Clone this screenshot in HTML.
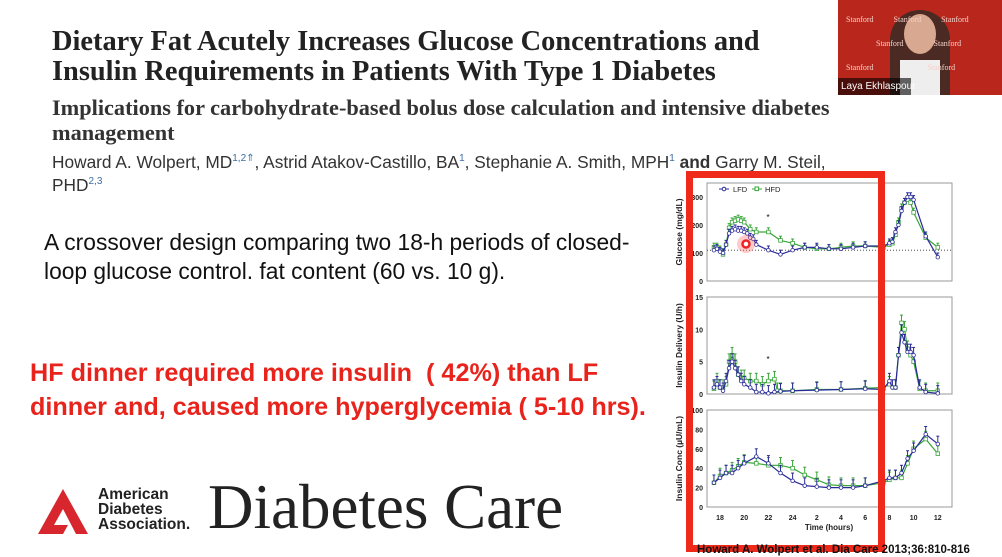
<!DOCTYPE html>
<html><head><meta charset="utf-8"><style>
body{margin:0;width:1002px;height:557px;background:#fff;position:relative;overflow:hidden;font-family:"Liberation Sans",sans-serif}
.a{position:absolute;white-space:nowrap}
.t{font-family:"Liberation Serif",serif;font-weight:bold;font-size:28.4px;color:#222;left:52px}
.s{font-family:"Liberation Serif",serif;font-weight:bold;font-size:22.3px;color:#333;left:52px}
.au{font-size:17.3px;color:#333;left:52px}
sup{font-size:10px;color:#3a6ea5}
.b{font-size:22.8px;color:#111;left:44px}
.r{font-size:25.2px;font-weight:bold;color:#e8231c;left:30px}
</style></head><body>
<div class="a t" style="top:26px">Dietary Fat Acutely Increases Glucose Concentrations and</div>
<div class="a t" style="top:56px">Insulin Requirements in Patients With Type 1 Diabetes</div>
<div class="a s" style="top:95px">Implications for carbohydrate-based bolus dose calculation and intensive diabetes</div>
<div class="a s" style="top:120px">management</div>
<div class="a au" style="top:152px">Howard A. Wolpert, MD<sup>1,2</sup><sup>⇑</sup>, Astrid Atakov-Castillo, BA<sup>1</sup>, Stephanie A. Smith, MPH<sup>1</sup> <b>and</b> Garry M. Steil,</div>
<div class="a au" style="top:175px">PHD<sup>2,3</sup></div>
<div class="a b" style="top:229px">A crossover design comparing two 18-h periods of closed-</div>
<div class="a b" style="top:258px">loop glucose control. fat content (60 vs. 10 g).</div>
<div class="a r" style="top:359px">HF dinner required more insulin &nbsp;( 42%) than LF</div>
<div class="a r" style="top:393px">dinner and, caused more hyperglycemia ( 5-10 hrs).</div>
<svg class="a" style="left:38px;top:489px" width="50" height="45"><polygon points="25,0 50,45 38,45 25,20 16,36 30,36 25,45 0,45" fill="#d7262e"/></svg>
<div class="a" style="left:98px;top:487px;font-size:15.5px;font-weight:bold;line-height:15px;color:#222">American<br>Diabetes<br>Association.</div>
<div class="a" style="left:208px;top:471px;font-family:'Liberation Serif',serif;font-size:63px;color:#222">Diabetes Care</div>
<div class="a" style="left:838px;top:0;width:164px;height:95px;background:#b8261c">
<div style="position:absolute;left:52px;top:10px;width:60px;height:85px;background:#4a2a22;border-radius:30px 30px 0 0"></div>
<div style="position:absolute;left:66px;top:14px;width:32px;height:40px;background:#d9a890;border-radius:50%"></div>
<div style="position:absolute;left:62px;top:60px;width:40px;height:35px;background:#eee"></div>
<div style="position:absolute;left:0;top:78px;width:70px;height:17px;background:rgba(0,0,0,.6);color:#fff;font-size:10px;line-height:17px;padding-left:3px">Laya Ekhlaspour</div>
<div style="position:absolute;left:8px;top:8px;color:#f3d0c8;font-size:8px;line-height:24px;font-family:'Liberation Serif',serif">Stanford &nbsp;&nbsp;&nbsp;&nbsp;&nbsp;&nbsp;&nbsp;&nbsp;&nbsp;Stanford &nbsp;&nbsp;&nbsp;&nbsp;&nbsp;&nbsp;&nbsp;&nbsp;&nbsp;Stanford<br>&nbsp;&nbsp;&nbsp;&nbsp;&nbsp;&nbsp;&nbsp;&nbsp;&nbsp;&nbsp;&nbsp;&nbsp;&nbsp;&nbsp;&nbsp;Stanford &nbsp;&nbsp;&nbsp;&nbsp;&nbsp;&nbsp;&nbsp;&nbsp;&nbsp;&nbsp;&nbsp;&nbsp;&nbsp;&nbsp;Stanford<br>Stanford &nbsp;&nbsp;&nbsp;&nbsp;&nbsp;&nbsp;&nbsp;&nbsp;&nbsp;&nbsp;&nbsp;&nbsp;&nbsp;&nbsp;&nbsp;&nbsp;&nbsp;&nbsp;&nbsp;&nbsp;&nbsp;&nbsp;&nbsp;&nbsp;&nbsp;&nbsp;Stanford</div>
</div>
<svg id="c" class="a" style="left:0;top:0" width="1002" height="557" font-family="Liberation Sans,sans-serif"></svg>
<div class="a" style="left:697px;top:544px;font-size:11.5px;font-weight:bold;color:#111">Howard A. Wolpert et al. Dia Care 2013;36:810-816</div>
<script>
const X=h=>720+12.1*(h>=17?h-18:h+6);
const P=[
{t:183,b:281,max:350,ticks:[0,100,200,300],lab:"Glucose (mg/dL)",
L:[[17.5,110],[17.75,115],[18,105],[18.25,100],[18.5,130],[18.75,170],[19,180],[19.25,185],[19.5,180],[19.75,180],[20,175],[20.25,170],[20.5,155],[20.75,150],[21,130],[22,110],[23,95],[24,110],[1,120],[2,120],[3,115],[4,115],[5,120],[6,125],[7.5,125],[8,135],[8.25,140],[8.5,175],[8.75,200],[9,250],[9.25,280],[9.5,300],[9.75,300],[10,290],[11,160],[12,85]],
H:[[17.5,120],[17.75,120],[18,110],[18.25,95],[18.5,130],[18.75,190],[19,210],[19.25,215],[19.5,220],[19.75,215],[20,210],[20.5,185],[21,175],[22,175],[23,145],[24,135],[1,120],[2,115],[3,115],[4,120],[5,125],[6,125],[7.5,120],[8,130],[8.25,135],[8.5,165],[8.75,210],[9,260],[9.25,280],[9.5,290],[9.75,280],[10,245],[11,155],[12,120]],e:15},
{t:297,b:394,max:15,ticks:[0,5,10,15],lab:"Insulin Delivery (U/h)",
L:[[17.5,1],[17.75,1.5],[18,1],[18.25,0.5],[18.5,2],[18.75,4],[19,5],[19.25,4],[19.5,3],[19.75,2],[20,1.5],[20.5,1],[21,0.3],[21.5,0.3],[22,0.1],[22.5,0.3],[23,0.4],[24,0.5],[2,0.6],[4,0.7],[6,0.8],[7.5,0.7],[8,2],[8.25,1],[8.5,1],[8.75,6],[9,9.5],[9.25,8],[9.5,6.5],[9.75,6.5],[10,6],[10.5,1],[11,0.3],[12,0.1]],
H:[[17.5,0.8],[17.75,2],[18,1],[18.25,1],[18.5,1.5],[18.75,5],[19,6],[19.25,5],[19.5,3],[19.75,2.5],[20,2.5],[20.5,2],[21,2],[21.5,1.5],[22,2],[22.5,2.3],[22.75,0.5],[23,0.5],[24,0.5],[2,0.7],[4,0.7],[6,0.9],[7.5,1],[8,1.5],[8.5,1],[8.75,6],[9,11],[9.25,10],[9.5,7],[9.75,6],[10,5],[10.5,0.8],[11,0.5],[12,0.5]],e:1.2},
{t:410,b:507,max:100,ticks:[0,20,40,60,80,100],lab:"Insulin Conc (\u00b5U/mL)",
L:[[17.5,25],[18,30],[18.5,35],[19,35],[19.5,40],[20,45],[21,52],[22,45],[23,35],[24,27],[1,22],[2,21],[3,20],[4,20],[5,20],[6,22],[7.5,27],[8,30],[8.5,30],[9,35],[9.5,50],[10,58],[11,75],[12,65]],
H:[[17.5,25],[18,32],[18.5,35],[19,38],[19.5,42],[20,46],[21,45],[22,43],[23,43],[24,40],[1,33],[2,28],[3,23],[4,22],[5,22],[6,22],[7.5,25],[8,28],[8.5,30],[9,30],[9.5,45],[10,60],[11,70],[12,55]],e:8}];
let s="";
P.forEach((p,i)=>{
 const Y=v=>p.b-(v/p.max)*(p.b-p.t);
 s+=`<rect x="707" y="${p.t}" width="245" height="${p.b-p.t}" fill="none" stroke="#999" stroke-width="1"/>`;
 p.ticks.forEach(v=>{s+=`<text x="703" y="${Y(v)+3}" font-size="7" font-weight="bold" text-anchor="end" fill="#222">${v}</text>`});
 s+=`<text transform="translate(682,${(p.t+p.b)/2}) rotate(-90)" font-size="8.5" font-weight="bold" text-anchor="middle" fill="#222">${p.lab}</text>`;
 if(i==0)s+=`<line x1="707" x2="952" y1="${Y(110)}" y2="${Y(110)}" stroke="#333" stroke-dasharray="1,2" stroke-width="0.8"/>`;
 [["H","#3aa63a","rect"],["L","#2a2a9a","c"]].forEach(([k,col,m])=>{
  const d=p[k];
  s+=`<polyline fill="none" stroke="${col}" stroke-width="1.2" points="${d.map(q=>X(q[0])+","+Y(q[1])).join(" ")}"/>`;
  d.forEach(q=>{const x=X(q[0]),y=Y(q[1]);
   s+=`<line x1="${x}" x2="${x}" y1="${y}" y2="${Y(q[1]+p.e)}" stroke="${col}" stroke-width="1"/><line x1="${x-1.5}" x2="${x+1.5}" y1="${Y(q[1]+p.e)}" y2="${Y(q[1]+p.e)}" stroke="${col}"/>`;
   s+=m=="c"?`<circle cx="${x}" cy="${y}" r="1.8" fill="#fff" stroke="${col}" stroke-width="0.8"/>`:`<rect x="${x-1.8}" y="${y-1.8}" width="3.6" height="3.6" fill="#fff" stroke="${col}" stroke-width="0.8"/>`;});
 });
});
[18,20,22,24,2,4,6,8,10,12].forEach(h=>{s+=`<text x="${X(h)}" y="520" font-size="7" font-weight="bold" text-anchor="middle" fill="#222">${h}</text>`});
s+=`<text x="829" y="530" font-size="8" font-weight="bold" text-anchor="middle" fill="#222">Time (hours)</text>`;
s+=`<line x1="719" x2="729" y1="189" y2="189" stroke="#2a2a9a"/><circle cx="724" cy="189" r="1.8" fill="#fff" stroke="#2a2a9a"/><text x="733" y="192" font-size="7.5" fill="#222">LFD</text>`;
s+=`<line x1="752" x2="762" y1="189" y2="189" stroke="#3aa63a"/><rect x="755" y="187" width="3.6" height="3.6" fill="#fff" stroke="#3aa63a"/><text x="765" y="192" font-size="7.5" fill="#222">HFD</text>`;
s+=`<text x="768" y="220" font-size="8" text-anchor="middle">*</text><text x="768" y="362" font-size="8" text-anchor="middle">*</text>`;
s+=`<circle cx="746" cy="244" r="9" fill="#f66" opacity="0.35"/><circle cx="746" cy="244" r="3.5" fill="#fff" stroke="#e22" stroke-width="2.5"/>`;
s+=`<rect x="689.5" y="174.5" width="192" height="374" fill="none" stroke="#f02a1a" stroke-width="7"/>`;
document.getElementById("c").innerHTML=s;
</script>
</body></html>
